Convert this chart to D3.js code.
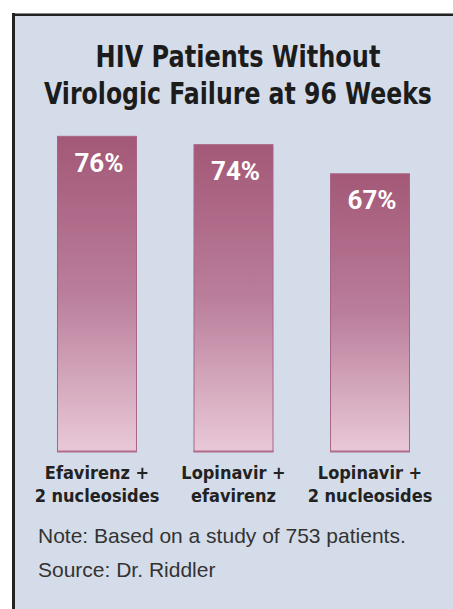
<!DOCTYPE html>
<html>
<head>
<meta charset="utf-8">
<script src="https://cdn.jsdelivr.net/npm/d3@7"></script>
<style>
  html, body { margin: 0; padding: 0; background: #fff; }
  svg { display: block; }
  .cond { font-family: "Liberation Sans Narrow", "Arial Narrow", "DejaVu Sans Condensed", "Liberation Sans", sans-serif; font-weight: bold; }
</style>
</head>
<body>
<div id="chart"></div>
<script>
// Données
const categories = ["Efavirenz +|2 nucleosides", "Lopinavir +|efavirenz", "Lopinavir +|2 nucleosides"];
const values = [76, 74, 67];
const valueLabels = ["76%", "74%", "67%"];
const titleLines = ["HIV Patients Without", "Virologic Failure at 96 Weeks"];
const notes = ["Note: Based on a study of 753 patients.", "Source: Dr. Riddler"];

const width = 453;
const height = 609;

const svg = d3.select("#chart")
    .append("svg")
    .attr("width", width)
    .attr("height", height);

// Dégradé des barres
const grad = svg.append("defs").append("linearGradient")
    .attr("id", "barGrad")
    .attr("x1", 0).attr("y1", 0).attr("x2", 0).attr("y2", 1);
grad.append("stop").attr("offset", "0%").attr("stop-color", "#a35877");
grad.append("stop").attr("offset", "50%").attr("stop-color", "#ba7e9b");
grad.append("stop").attr("offset", "100%").attr("stop-color", "#e9c9d7");

// Cadre
svg.append("rect")
    .attr("x", 12).attr("y", 13)
    .attr("width", width - 12).attr("height", height - 13)
    .attr("fill", "#d5dce9");
svg.append("line")
    .attr("x1", 12).attr("x2", width).attr("y1", 13.5).attr("y2", 13.5)
    .attr("stroke", "#8a8a8a").attr("stroke-width", 1);
svg.append("line")
    .attr("x1", 12).attr("x2", width).attr("y1", 15).attr("y2", 15)
    .attr("stroke", "#222").attr("stroke-width", 2);
svg.append("line")
    .attr("x1", 13.5).attr("x2", 13.5).attr("y1", 13).attr("y2", height)
    .attr("stroke", "#222").attr("stroke-width", 3);

// Titre : police étroite, mise à la largeur voulue par une échelle horizontale
const titleWidths = [285, 388];
svg.append("g").selectAll("text")
    .data(titleLines)
    .enter()
    .append("text")
    .attr("class", "cond")
    .attr("x", 0)
    .attr("y", 0)
    .attr("text-anchor", "middle")
    .attr("font-size", 30)
    .attr("fill", "#1c1c1c")
    .text(d => d)
    .each(function(d, i) {
        const w = this.getComputedTextLength();
        const k = Math.min(1, titleWidths[i] / w);
        d3.select(this).attr("transform", `translate(238,${67 + i * 37}) scale(${k},1)`);
    });

// Échelles
const x = d3.scaleBand()
    .domain(categories)
    .range([20, 447])
    .paddingInner(0.414)
    .paddingOuter(0.271);

const y = d3.scaleLinear()
    .domain([0, 100])
    .range([452, 36]);

const bars = svg.append("g").selectAll("g")
    .data(categories)
    .enter()
    .append("g");

bars.append("rect")
    .attr("x", d => x(d) + 0.5)
    .attr("y", (d, i) => y(values[i]) + 0.5)
    .attr("width", x.bandwidth() - 1)
    .attr("height", (d, i) => y(0) - y(values[i]) - 1)
    .attr("fill", "url(#barGrad)")
    .attr("stroke", "#a96587")
    .attr("stroke-width", 1);

bars.append("line")
    .attr("x1", d => x(d))
    .attr("x2", d => x(d) + x.bandwidth())
    .attr("y1", y(0) - 0.5)
    .attr("y2", y(0) - 0.5)
    .attr("stroke", "#b06b8c")
    .attr("stroke-width", 2);

bars.append("text")
    .attr("x", d => x(d) + x.bandwidth() / 2 + 2)
    .attr("y", (d, i) => y(values[i]) + 36)
    .attr("text-anchor", "middle")
    .attr("font-family", "Roboto, 'Liberation Sans', sans-serif")
    .attr("font-weight", "bold")
    .attr("font-size", 26)
    .attr("fill", "#fff")
    .text((d, i) => valueLabels[i]);

// Étiquettes des catégories
bars.each(function(d) {
    const lines = d.split("|");
    d3.select(this).selectAll("text.cat")
        .data(lines)
        .enter()
        .append("text")
        .attr("class", "cat cond")
        .attr("x", x(d) + x.bandwidth() / 2)
        .attr("y", (l, i) => 479 + i * 23)
        .attr("text-anchor", "middle")
        .attr("font-size", 18)
        .attr("fill", "#222")
        .text(l => l);
});

// Notes
svg.append("g").selectAll("text")
    .data(notes)
    .enter()
    .append("text")
    .attr("x", 38)
    .attr("y", (d, i) => 543 + i * 34)
    .attr("font-family", "'Liberation Sans', Arial, sans-serif")
    .attr("font-size", 21)
    .attr("fill", "#333")
    .text(d => d);
</script>
</body>
</html>
